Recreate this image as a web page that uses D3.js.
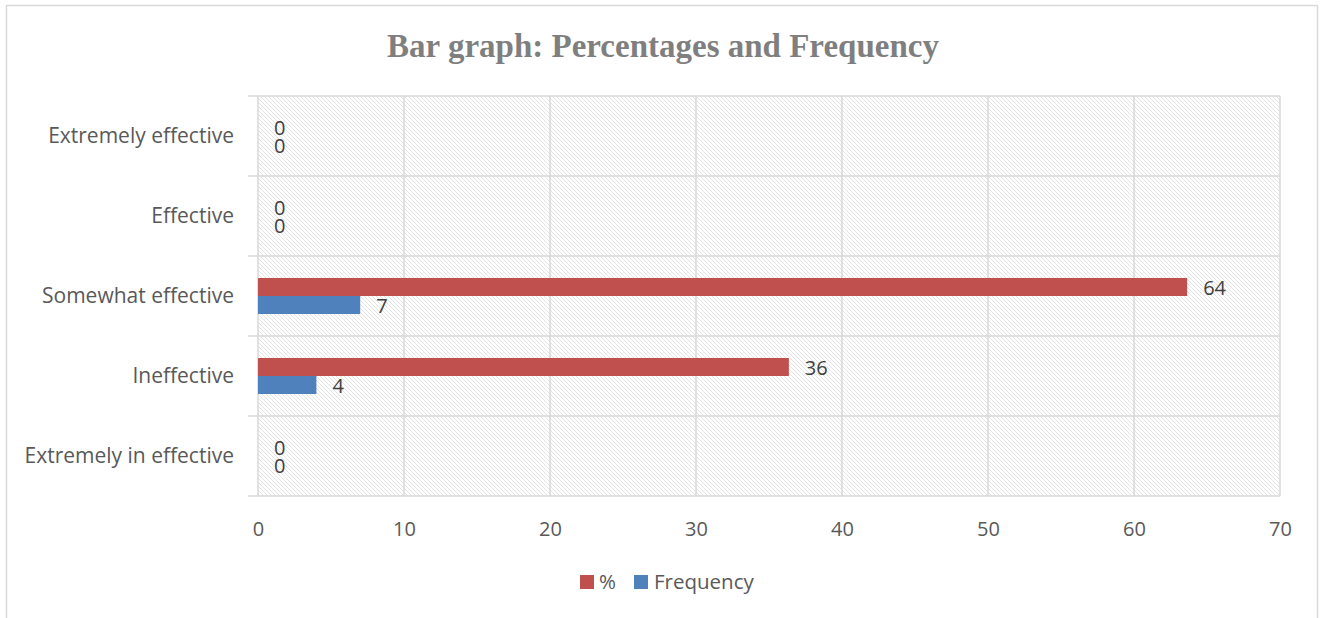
<!DOCTYPE html>
<html><head><meta charset="utf-8">
<script src="https://cdn.jsdelivr.net/npm/d3@7"></script>
<style>body{margin:0;background:#fff}svg{display:block}</style>
</head><body>
<svg id="c" width="1322" height="618"></svg>
<script>
const categories = ["Extremely effective","Effective","Somewhat effective","Ineffective","Extremely in effective"];
const percentValues = [0,0,63.64,36.36,0];
const frequencyValues = [0,0,7,4,0];
const seriesNames = ["%","Frequency"];
const xTicks = [0,10,20,30,40,50,60,70];
const titleText = "Bar graph: Percentages and Frequency";

const colors = {"%":"#c0504d","Frequency":"#4f81bd"};
const svg = d3.select("#c");
const m={left:258,right:1280,top:96,bottom:496};

const defs = svg.append("defs");
const pat = defs.append("pattern").attr("id","hatch").attr("patternUnits","userSpaceOnUse")
  .attr("width",4).attr("height",4);
pat.append("rect").attr("width",4).attr("height",4).attr("fill","#fff");
[0,1,2,3].forEach(i=>pat.append("rect").attr("x",i).attr("y",i).attr("width",1).attr("height",1).attr("fill","#e3e3e3"));

svg.append("rect").attr("x",6.5).attr("y",5.5).attr("width",1311).attr("height",640)
  .attr("fill","#fff").attr("stroke","#d9d9d9").attr("stroke-width",1.5);

svg.append("text").attr("x",663).attr("y",57).attr("text-anchor","middle")
  .attr("font-family","'Liberation Serif','DejaVu Serif',serif").attr("font-weight","bold")
  .attr("font-size",33).attr("fill","#7f7f7f").text(titleText);

const x = d3.scaleLinear().domain([0,70]).range([m.left,m.right]);
const y = d3.scaleBand().domain(categories).range([m.top,m.bottom]);
const ySub = d3.scaleBand().domain(seriesNames).range([0,y.bandwidth()]).paddingInner(0).paddingOuter(1.22);

svg.append("rect").attr("x",m.left).attr("y",m.top).attr("width",m.right-m.left).attr("height",m.bottom-m.top)
  .attr("fill","url(#hatch)");

const grid="#d9d9d9";
svg.append("g").selectAll("line").data(xTicks).join("line")
  .attr("x1",d=>x(d)).attr("x2",d=>x(d)).attr("y1",m.top).attr("y2",m.bottom)
  .attr("stroke",grid).attr("stroke-width",1.5);
const bounds = categories.map(c=>y(c)).concat([m.bottom]);
svg.append("g").selectAll("line").data(bounds).join("line")
  .attr("x1",m.left-10).attr("x2",m.right).attr("y1",d=>d).attr("y2",d=>d)
  .attr("stroke",grid).attr("stroke-width",1.5);

const font="'Open Sans','Noto Sans',sans-serif";
const xAxis = d3.axisBottom(x).tickValues(xTicks).tickSize(0).tickPadding(0);
const gx = svg.append("g").attr("transform",`translate(0,${m.bottom})`).call(xAxis);
gx.select(".domain").remove();
gx.selectAll("text").attr("font-family",font).attr("font-size",20).attr("fill","#595959").attr("dy",0).attr("y",40);

const yAxis = d3.axisLeft(y).tickSize(0).tickPadding(0);
const gy = svg.append("g").attr("transform",`translate(${m.left-24},0)`).call(yAxis);
gy.select(".domain").remove();
gy.selectAll("text").attr("font-family",font).attr("font-size",21).attr("fill","#595959");

const data = [];
categories.forEach((c,i)=>{
  data.push({cat:c,s:"%",v:percentValues[i]});
  data.push({cat:c,s:"Frequency",v:frequencyValues[i]});
});
svg.append("g").selectAll("rect").data(data).join("rect")
  .attr("x",x(0)).attr("y",d=>y(d.cat)+ySub(d.s)).attr("height",ySub.bandwidth())
  .attr("width",d=>x(d.v)-x(0)).attr("fill",d=>colors[d.s]);
svg.append("g").selectAll("text").data(data).join("text")
  .attr("x",d=>x(d.v)+16).attr("y",d=>y(d.cat)+ySub(d.s)+ySub.bandwidth()/2+1).attr("dy","0.35em")
  .attr("font-family",font).attr("font-size",20).attr("fill","#404040")
  .text(d=>Math.round(d.v));

const lg = svg.append("g").attr("transform","translate(580,575)");
lg.append("rect").attr("x",0).attr("y",0).attr("width",14).attr("height",14).attr("fill",colors["%"]);
lg.append("text").attr("x",19).attr("y",14).attr("font-family",font).attr("font-size",20.5).attr("fill","#595959").text("%");
lg.append("rect").attr("x",54).attr("y",0).attr("width",14).attr("height",14).attr("fill",colors["Frequency"]);
lg.append("text").attr("x",74).attr("y",14).attr("font-family",font).attr("font-size",20.5).attr("fill","#595959").text("Frequency");
</script>
</body></html>
